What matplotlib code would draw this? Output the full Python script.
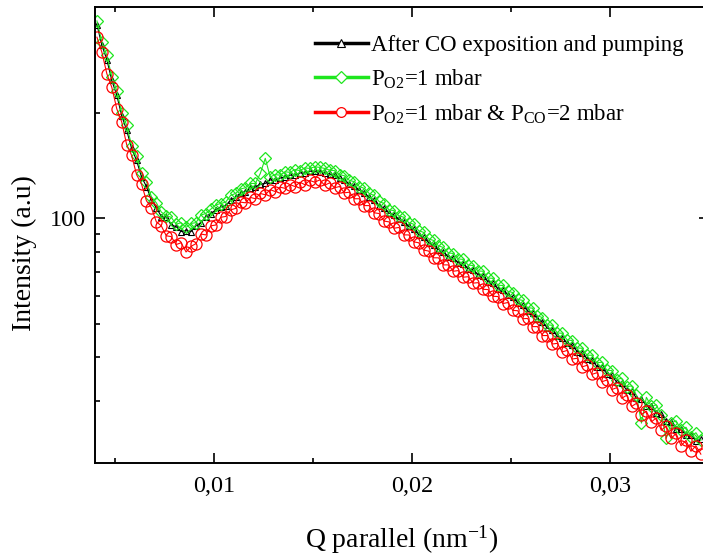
import matplotlib
matplotlib.use('Agg')
import matplotlib.pyplot as plt
from matplotlib.lines import Line2D
from matplotlib.ticker import NullFormatter

# Q parallel (nm^-1), same grid for the three scans
q = [0.0041, 0.00435, 0.0046, 0.00485, 0.0051, 0.00535, 0.0056, 0.00585, 0.0061, 0.00635,
     0.0066, 0.00685, 0.0071, 0.00735, 0.0076, 0.00785, 0.0081, 0.00835, 0.0086, 0.00885,
     0.0091, 0.00935, 0.0096, 0.00985, 0.0101, 0.01035, 0.0106, 0.01085, 0.0111, 0.01135,
     0.0116, 0.01185, 0.0121, 0.01235, 0.0126, 0.01285, 0.0131, 0.01335, 0.0136, 0.01385,
     0.0141, 0.01435, 0.0146, 0.01485, 0.0151, 0.01535, 0.0156, 0.01585, 0.0161, 0.01635,
     0.0166, 0.01685, 0.0171, 0.01735, 0.0176, 0.01785, 0.0181, 0.01835, 0.0186, 0.01885,
     0.0191, 0.01935, 0.0196, 0.01985, 0.0201, 0.02035, 0.0206, 0.02085, 0.0211, 0.02135,
     0.0216, 0.02185, 0.0221, 0.02235, 0.0226, 0.02285, 0.0231, 0.02335, 0.0236, 0.02385,
     0.0241, 0.02435, 0.0246, 0.02485, 0.0251, 0.02535, 0.0256, 0.02585, 0.0261, 0.02635,
     0.0266, 0.02685, 0.0271, 0.02735, 0.0276, 0.02785, 0.0281, 0.02835, 0.0286, 0.02885,
     0.0291, 0.02935, 0.0296, 0.02985, 0.0301, 0.03035, 0.0306, 0.03085, 0.0311, 0.03135,
     0.0316, 0.03185, 0.0321, 0.03235, 0.0326, 0.03285, 0.0331, 0.03335, 0.0336, 0.03385,
     0.0341, 0.03435, 0.0346]

# after CO exposition and pumping
pumped = [356, 311, 283, 247, 224, 196, 178, 158, 146, 131,
          123, 112.5, 107, 101, 100.5, 95.5, 94.5, 91.5, 92, 91.5,
          95, 97, 101, 103, 105.5, 107.5, 108.5, 112.5, 114.5, 118,
          119, 122, 122.5, 125, 125.5, 128.5, 128, 130, 131, 132.5,
          132.5, 134.5, 134.5, 136, 136, 135.5, 134.5, 133.5, 132.5, 130,
          128.5, 125, 123.5, 120, 118, 114.5, 112.5, 108.5, 106.8, 103.2,
          101.9, 99.1, 97.4, 94.6, 93, 89.7, 88.2, 85.1, 83.7, 81.3,
          79.9, 77.5, 76.8, 74.5, 73.9, 71.7, 71, 68.9, 68.3, 65.8,
          65.2, 62.8, 62.2, 60.4, 59.5, 57.3, 56.5, 54.3, 53.6, 51.5,
          50.5, 48.5, 47.9, 46, 45.5, 43.9, 43.4, 41.6, 41.2, 39.7,
          39.4, 37.7, 37.5, 36, 35.6, 34, 33.8, 32.3, 32.1, 30.6,
          30.5, 29.1, 29.1, 27.7, 27.6, 26.3, 26.2, 25, 25, 24,
          24.1, 23.1, 23.4]

# P_O2 = 1 mbar
po2 = [365, 318, 291, 253, 231, 200, 184, 161, 150, 134,
       127, 115, 110.5, 104, 101.5, 100.5, 96, 97, 94, 96.5,
       97, 102, 103, 106, 109, 110, 111, 116, 117.5, 121,
       122, 125.5, 125.5, 134, 148, 131, 133, 132.5, 135.5, 135,
       137.5, 136.5, 139, 138.5, 140, 139.5, 138.5, 137, 136.5, 133,
       132, 128, 127, 123, 121.5, 117.5, 116, 111.5, 110, 105.5,
       105, 101.5, 100.5, 97, 96, 92, 91, 87.2, 86.3, 83.3,
       82.4, 79.5, 79.2, 76.4, 76.2, 73.4, 73.2, 70.6, 70.5, 67.4,
       67.3, 64.3, 64.2, 61.8, 61.3, 58.6, 58.2, 55.5, 55.3, 52.6,
       52, 49.6, 49.4, 47, 46.9, 44.9, 44.7, 42.6, 42.5, 40.6,
       40.6, 38.6, 38.8, 36.8, 36.7, 34.6, 34.9, 33, 33.2, 31.2,
       26, 30.8, 29, 29.3, 27.5, 23.5, 26, 26.4, 24.9, 25.3,
       23.8, 24.4, 23.2]

# P_O2 = 1 mbar & P_CO = 2 mbar
po2_pco = [328, 297, 258, 236, 205, 188, 162, 151, 133, 125,
           112, 107, 97.5, 95, 89, 88.5, 84, 85, 80, 83,
           84.5, 90, 89.5, 95, 95.5, 100.5, 101, 105.5, 106.5, 111,
           110.5, 114.5, 113.5, 117.5, 116.5, 120.5, 119, 122.5, 121.5, 124.5,
           123, 126.5, 124.5, 128, 126.5, 128.5, 124, 126, 122, 123,
           118, 118.5, 113.5, 113.5, 108.5, 108.5, 103.5, 103, 98, 97.5,
           93.5, 94, 89.5, 89.5, 85.5, 85, 81, 80.5, 77, 77,
           73.5, 73.5, 70.5, 70.8, 67.8, 68, 65.2, 65.4, 62.6, 62.5,
           59.8, 59.7, 57, 57.4, 54.5, 54.4, 51.6, 51.7, 49, 49,
           46.2, 46.2, 43.7, 43.9, 41.5, 41.9, 39.6, 39.8, 37.6, 38,
           35.8, 36.2, 34.1, 34.5, 32.4, 32.8, 30.6, 31.2, 29, 29.6,
           27.5, 28.1, 26.2, 26.9, 24.8, 25.5, 23.5, 24.3, 22.4, 23.2,
           21.6, 22.4, 21.2]

labels = ['After CO exposition and pumping',
          r'P$_{\mathrm{O2}}$=1 mbar',
          r'P$_{\mathrm{O2}}$=1 mbar & P$_{\mathrm{CO}}$=2 mbar']
x_ticks = [0.01, 0.02, 0.03]
x_ticklabels = ['0,01', '0,02', '0,03']
x_minor = [0.005, 0.015, 0.025]
y_ticks = [100]
y_ticklabels = ['100']
y_minor = [30, 40, 50, 60, 70, 80, 90, 200]

plt.rcParams['font.family'] = 'Liberation Serif'
plt.rcParams['mathtext.fontset'] = 'custom'
plt.rcParams['mathtext.rm'] = 'Liberation Serif'
plt.rcParams['mathtext.it'] = 'Liberation Serif:italic'

green = '#1ee61e'
fig = plt.figure(figsize=(7.03, 5.6), dpi=100)
ax = fig.add_axes([0.1351, 0.1732, 0.8731, 0.8143])

ax.plot(q, pumped, color='black', lw=0.8, marker='^', ms=5, mfc='none', mew=0.8)
ax.plot(q, po2, color=green, lw=0.8, marker='D', ms=6.5, mfc='none', mew=0.9)
ax.plot(q, po2_pco, color='red', lw=0.8, marker='o', ms=8, mfc='none', mew=0.9)

ax.set_yscale('log')
ax.set_xlim(0.004, 0.035)
ax.set_ylim(20, 400)
ax.set_xticks(x_ticks, labels=x_ticklabels)
ax.set_xticks(x_minor, minor=True)
ax.set_yticks(y_ticks, labels=y_ticklabels)
ax.set_yticks(y_minor, minor=True)
ax.yaxis.set_minor_formatter(NullFormatter())
ax.tick_params(which='both', direction='in', top=True, right=True, width=1.2)
ax.tick_params(which='major', length=7, labelsize=17.5)
ax.tick_params(axis='x', which='major', pad=9.5)
ax.tick_params(axis='y', which='major', pad=6.5)
ax.tick_params(which='minor', length=3.5)
for s in ax.spines.values():
    s.set_linewidth(1.4)

ax.set_xlabel(r'Q parallel (nm$^{\mathrm{-1}}$)', fontsize=20, labelpad=19)
ax.set_ylabel('Intensity (a.u)', fontsize=20)
ax.yaxis.set_label_coords(-0.0945, 0.4605)

handles = [Line2D([], [], color='black', lw=2.5, marker='^', ms=6, mfc='white', mew=0.8),
           Line2D([], [], color=green, lw=2.5, marker='D', ms=6, mfc='white', mew=0.9),
           Line2D([], [], color='red', lw=2.5, marker='o', ms=7, mfc='white', mew=0.9)]
fig.legend(handles, labels, loc='upper left', bbox_to_anchor=(315 / 703, 1 - 35 / 560),
           frameon=False, fontsize=16.5, handlelength=2.3, handletextpad=0.15,
           labelspacing=0.5, borderpad=0, borderaxespad=0)

fig.savefig('out.png', dpi=100)
